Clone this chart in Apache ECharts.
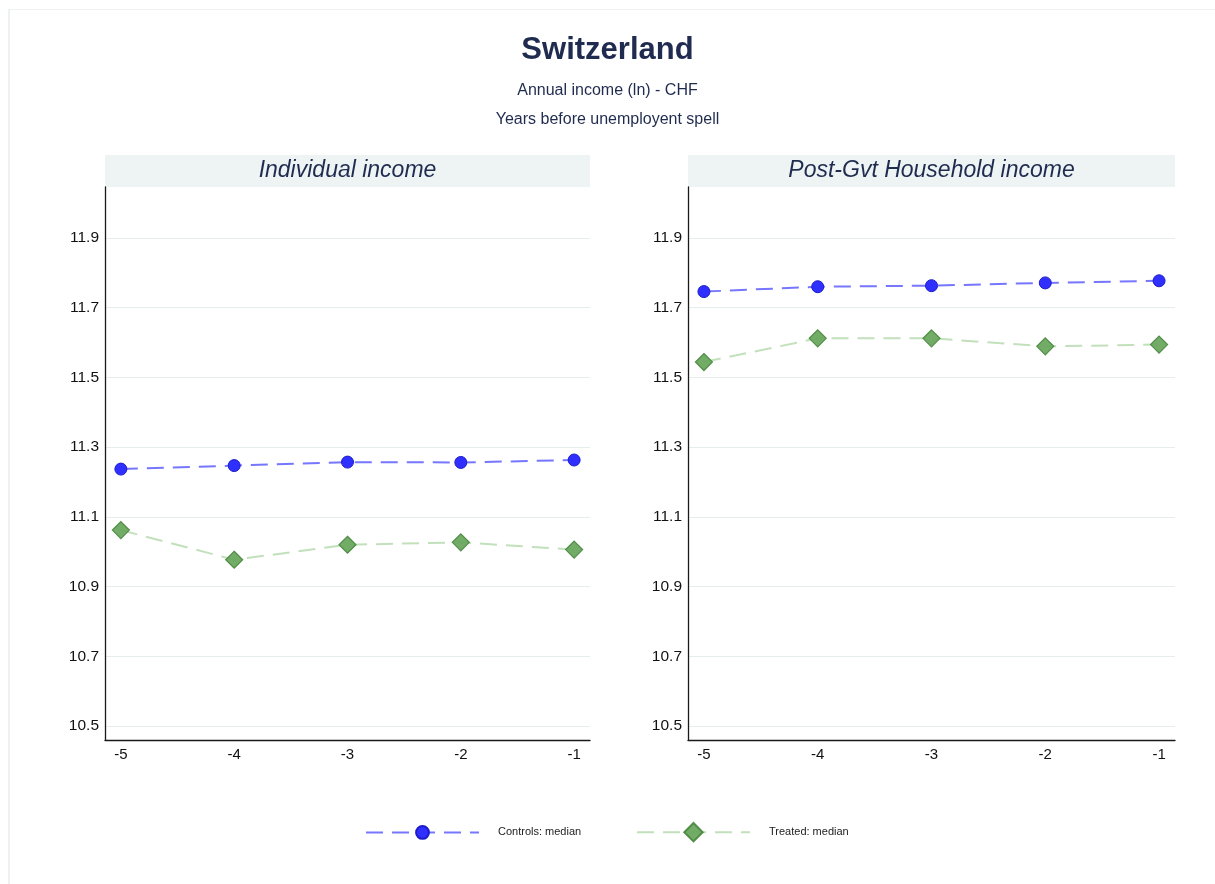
<!DOCTYPE html>
<html>
<head>
<meta charset="utf-8">
<script src="https://cdn.jsdelivr.net/npm/echarts@6/dist/echarts.min.js"></script>
<style>
  html, body { margin: 0; padding: 0; background: #ffffff; }
  #frame { position: absolute; left: 8px; top: 9px; right: 0; bottom: 0;
           border-top: 1px solid #eef1f1; border-left: 2px solid #eef1f1; }
  #chart { position: absolute; left: 0; top: 0; width: 1215px; height: 884px; }
</style>
</head>
<body>
<div id="frame"></div>
<div id="chart"></div>
<script>
// Years before the unemployment spell
const years = [-5, -4, -3, -2, -1];
const yTicks = [10.5, 10.7, 10.9, 11.1, 11.3, 11.5, 11.7, 11.9];

// Individual income (ln CHF), medians
const indivControls = [11.237, 11.247, 11.257, 11.256, 11.263];
const indivTreated  = [11.062, 10.977, 11.020, 11.027, 11.006];

// Post-government household income (ln CHF), medians
const hhControls = [11.746, 11.760, 11.763, 11.771, 11.777];
const hhTreated  = [11.544, 11.612, 11.612, 11.589, 11.594];

const panelTitles = ['Individual income', 'Post-Gvt Household income'];
const seriesNames = ['Controls: median', 'Treated: median'];

const FONT = '"Liberation Sans", Arial, Helvetica, sans-serif';
const NAVY = '#1f2b4f';

const grids = [
  { left: 105, top: 187, width: 485, height: 553 },
  { left: 688, top: 187, width: 487, height: 553 }
];

function pairs(vals) { return years.map((x, i) => [x, vals[i]]); }

const xAxes = grids.map((g, i) => ({
  type: 'value', gridIndex: i, min: -5.14, max: -0.86,
  axisLine: { show: true, onZero: false, lineStyle: { color: '#1a1a1a', width: 1.3 } },
  axisTick: { show: false, customValues: years },
  axisLabel: { customValues: years, color: '#111', fontSize: 15, fontFamily: FONT, margin: 7 },
  splitLine: { show: false }
}));

const yAxes = grids.map((g, i) => ({
  type: 'value', gridIndex: i, min: 10.46, max: 12.046,
  axisLine: { show: true, lineStyle: { color: '#1a1a1a', width: 1.3 } },
  axisTick: { show: false, customValues: yTicks },
  axisLabel: { customValues: yTicks, color: '#111', fontSize: 15.5, fontFamily: FONT, margin: 6,
               formatter: v => v.toFixed(1) },
  splitLine: { show: true, lineStyle: { color: '#e6eded', width: 1.2 } }
}));

const controlsStyle = {
  lineStyle: { color: '#7676ff', width: 2, type: [17, 9] },
  symbol: 'circle', symbolSize: 12,
  itemStyle: { color: '#2f2fff', borderColor: '#1c1cc8', borderWidth: 1 }
};
const treatedStyle = {
  lineStyle: { color: '#c2e0bb', width: 2, type: [17, 9] },
  symbol: 'diamond', symbolSize: [17, 17],
  itemStyle: { color: '#6aa85f', borderColor: '#4c8a42', borderWidth: 1.2, opacity: 0.95 }
};

function line(name, vals, idx, style) {
  return Object.assign({
    name, type: 'line', xAxisIndex: idx, yAxisIndex: idx,
    data: pairs(vals), showSymbol: true, silent: true, animation: false,
    emphasis: { disabled: true }
  }, JSON.parse(JSON.stringify(style)));
}

const series = [
  line(seriesNames[0], indivControls, 0, controlsStyle),
  line(seriesNames[1], indivTreated, 0, treatedStyle),
  line(seriesNames[0], hhControls, 1, controlsStyle),
  line(seriesNames[1], hhTreated, 1, treatedStyle)
];

// Panel header strips
const headers = [];
grids.forEach((g, i) => {
  headers.push({
    type: 'rect', left: g.left, top: 155,
    shape: { width: g.width, height: 32 },
    style: { fill: '#eef4f4' }, silent: true
  });
  headers.push({
    type: 'text', x: g.left + g.width / 2, y: 171,
    style: { text: panelTitles[i], fill: NAVY, fontSize: 23, fontStyle: 'italic',
             fontFamily: FONT, align: 'center', verticalAlign: 'middle' },
    silent: true
  });
});

const legendText = { fontSize: 11, color: '#222', fontFamily: FONT, padding: [0, 0, 0, 14] };

const chart = echarts.init(document.getElementById('chart'), null, { renderer: 'canvas' });
chart.setOption({
  backgroundColor: 'transparent',
  animation: false,
  title: [
    { text: 'Switzerland', left: 'center', top: 30,
      textStyle: { fontSize: 31, fontWeight: 'bold', color: NAVY, fontFamily: FONT } },
    { text: 'Annual income (ln) - CHF', left: 'center', top: 78,
      textStyle: { fontSize: 16, fontWeight: 'normal', color: NAVY, fontFamily: FONT } },
    { text: 'Years before unemployent spell', left: 'center', top: 107,
      textStyle: { fontSize: 16, fontWeight: 'normal', color: NAVY, fontFamily: FONT } }
  ],
  legend: [
    { data: [seriesNames[0]], left: 360, top: 820,
      itemWidth: 113, itemHeight: 16, textStyle: legendText, selectedMode: false },
    { data: [seriesNames[1]], left: 631, top: 817,
      itemWidth: 113, itemHeight: 23, textStyle: legendText, selectedMode: false }
  ],
  grid: grids,
  xAxis: xAxes,
  yAxis: yAxes,
  series: series,
  graphic: headers
});
</script>
</body>
</html>
